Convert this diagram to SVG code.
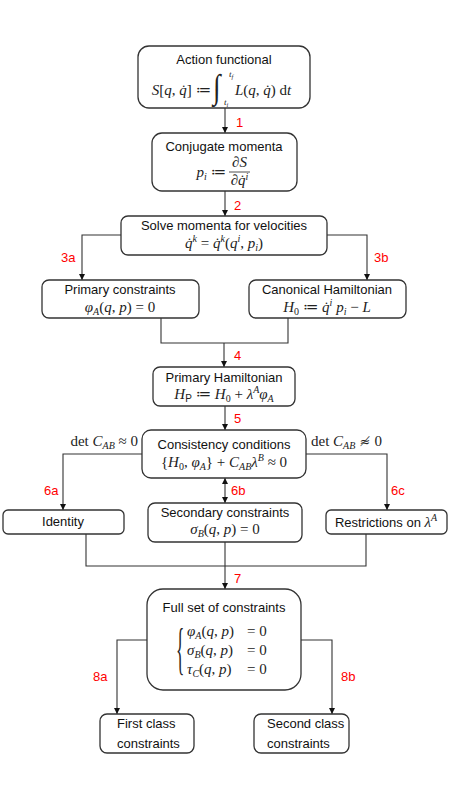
<svg xmlns="http://www.w3.org/2000/svg" width="450" height="800" viewBox="0 0 450 800">
<defs>
<marker id="ah" viewBox="0 0 10 10" refX="10" refY="5" markerWidth="6" markerHeight="6" markerUnits="userSpaceOnUse" orient="auto-start-reverse">
<path d="M0,0 L10,5 L0,10 z" fill="#111"/>
</marker>
<style>
.box{fill:#fff;stroke:#333;stroke-width:1.3}
.t{font-family:"Liberation Sans","DejaVu Sans",sans-serif;font-size:13px;fill:#111}
.m{font-family:"Liberation Serif","DejaVu Serif",serif;font-size:15px;fill:#222}
.i{font-style:italic}
.s{font-size:10px}
.lbl{font-family:"Liberation Sans","DejaVu Sans",sans-serif;font-size:13px;fill:#ff0000}
.c{fill:none;stroke:#333;stroke-width:1.1}
</style>
</defs>
<rect width="450" height="800" fill="#fff"/>
<g id="connectors">
<path class="c" d="M225,108 V133" marker-end="url(#ah)"/>
<path class="c" d="M225,191 V216" marker-end="url(#ah)"/>
<path class="c" d="M121,235 H82 V280" marker-end="url(#ah)"/>
<path class="c" d="M327,235 H367 V280" marker-end="url(#ah)"/>
<path class="c" d="M161,318 V343 H288 V318"/>
<path class="c" d="M224,343 V367" marker-end="url(#ah)"/>
<path class="c" d="M225,406 V430" marker-end="url(#ah)"/>
<path class="c" d="M142,454 H63 V510" marker-end="url(#ah)"/>
<path class="c" d="M306,454 H387 V510" marker-end="url(#ah)"/>
<path class="c" d="M225,478 V503" marker-start="url(#ah)" marker-end="url(#ah)"/>
<path class="c" d="M86,534 V566 H366 V534"/>
<path class="c" d="M225,542 V589" marker-end="url(#ah)"/>
<path class="c" d="M147,640 H117 V714" marker-end="url(#ah)"/>
<path class="c" d="M301,640 H332 V714" marker-end="url(#ah)"/>
<text class="lbl" x="236" y="127">1</text>
<text class="lbl" x="234" y="210">2</text>
<text class="lbl" x="61" y="262">3a</text>
<text class="lbl" x="374" y="262">3b</text>
<text class="lbl" x="234" y="360">4</text>
<text class="lbl" x="234" y="423">5</text>
<text class="lbl" x="44" y="495">6a</text>
<text class="lbl" x="231" y="495">6b</text>
<text class="lbl" x="391" y="495">6c</text>
<text class="lbl" x="234" y="583">7</text>
<text class="lbl" x="93" y="681">8a</text>
<text class="lbl" x="341" y="681">8b</text>
<text class="m" x="138" y="446" text-anchor="end">det <tspan class="i">C</tspan><tspan class="i s" dy="3">AB</tspan><tspan dy="-3"> ≈ 0</tspan></text>
<text class="m" x="311" y="446">det <tspan class="i">C</tspan><tspan class="i s" dy="3">AB</tspan><tspan dy="-3" font-family="DejaVu Serif" font-size="13"> ≉ </tspan><tspan>0</tspan></text>
</g>
<g id="n1">
<rect class="box" x="138" y="46" width="172" height="62" rx="11"/>
<text class="t" x="224" y="64" text-anchor="middle">Action functional</text>
<text class="m" x="211" y="95" text-anchor="end"><tspan class="i">S</tspan>[<tspan class="i">q</tspan>, <tspan class="i">q̇</tspan>] ≔</text>
<text class="m" x="0" y="0" transform="translate(213,98) scale(0.8,1)" style="font-size:34px">∫</text>
<text class="m i" x="229" y="77" style="font-size:9px">t<tspan font-size="6.5" dy="1.5">f</tspan></text>
<text class="m i" x="224" y="105" style="font-size:9px">t<tspan font-size="6.5" dy="1.5">i</tspan></text>
<text class="m" x="235" y="95"><tspan class="i">L</tspan>(<tspan class="i">q</tspan>, <tspan class="i">q̇</tspan>) d<tspan class="i">t</tspan></text>
</g>
<g id="n2">
<rect class="box" x="152" y="133" width="145" height="58" rx="10"/>
<text class="t" x="224" y="151" text-anchor="middle">Conjugate momenta</text>
<text class="m" x="226" y="177" text-anchor="end"><tspan class="i">p</tspan><tspan class="i s" dy="3">i</tspan><tspan dy="-3"> ≔</tspan></text>
<line x1="229" y1="172" x2="250" y2="172" stroke="#222" stroke-width="0.8"/>
<text class="m" x="239.5" y="167" text-anchor="middle"><tspan class="i">∂S</tspan></text>
<text class="m" x="239.5" y="185" text-anchor="middle"><tspan class="i">∂q̇</tspan><tspan class="i s" dy="-5">i</tspan></text>
</g>
<g id="n3">
<rect class="box" x="121" y="216" width="206" height="39" rx="7"/>
<text class="t" x="224" y="230" text-anchor="middle">Solve momenta for velocities</text>
<text class="m" x="224" y="248" text-anchor="middle"><tspan class="i">q̇</tspan><tspan class="i s" dy="-6">k</tspan><tspan dy="6"> = </tspan><tspan class="i">q̇</tspan><tspan class="i s" dy="-6">k</tspan><tspan dy="6">(</tspan><tspan class="i">q</tspan><tspan class="i s" dy="-6">i</tspan><tspan dy="6">, </tspan><tspan class="i">p</tspan><tspan class="i s" dy="3">i</tspan><tspan dy="-3">)</tspan></text>
</g>
<g id="n4a">
<rect class="box" x="42" y="280" width="157" height="38" rx="7"/>
<text class="t" x="120" y="294" text-anchor="middle">Primary constraints</text>
<text class="m" x="120" y="312" text-anchor="middle"><tspan class="i">φ</tspan><tspan class="i s" dy="3">A</tspan><tspan dy="-3">(</tspan><tspan class="i">q</tspan>, <tspan class="i">p</tspan>) = 0</text>
</g>
<g id="n4b">
<rect class="box" x="249" y="280" width="157" height="38" rx="7"/>
<text class="t" x="327" y="294" text-anchor="middle">Canonical Hamiltonian</text>
<text class="m" x="327" y="312" text-anchor="middle"><tspan class="i">H</tspan><tspan class="s" dy="3">0</tspan><tspan dy="-3"> ≔ </tspan><tspan class="i">q̇</tspan><tspan class="i s" dy="-6">i</tspan><tspan dy="6"> </tspan><tspan class="i">p</tspan><tspan class="i s" dy="3">i</tspan><tspan dy="-3"> − </tspan><tspan class="i">L</tspan></text>
</g>
<g id="n5">
<rect class="box" x="153" y="367" width="142" height="39" rx="7"/>
<text class="t" x="224" y="382" text-anchor="middle">Primary Hamiltonian</text>
<text class="m" x="224" y="399" text-anchor="middle"><tspan class="i">H</tspan><tspan class="s" dy="3" font-family="Liberation Sans, sans-serif" font-size="8">P</tspan><tspan dy="-3"> ≔ </tspan><tspan class="i">H</tspan><tspan class="s" dy="3">0</tspan><tspan dy="-3"> + </tspan><tspan class="i">λ</tspan><tspan class="i s" dy="-6">A</tspan><tspan class="i" dy="6">φ</tspan><tspan class="i s" dy="3">A</tspan></text>
</g>
<g id="n6">
<rect class="box" x="142" y="430" width="164" height="48" rx="9"/>
<text class="t" x="224" y="449" text-anchor="middle">Consistency conditions</text>
<text class="m" x="224" y="467" text-anchor="middle">{<tspan class="i">H</tspan><tspan class="s" dy="3">0</tspan><tspan dy="-3">, </tspan><tspan class="i">φ</tspan><tspan class="i s" dy="3">A</tspan><tspan dy="-3">} + </tspan><tspan class="i">C</tspan><tspan class="i s" dy="3">AB</tspan><tspan class="i" dy="-3">λ</tspan><tspan class="i s" dy="-6">B</tspan><tspan dy="6"> ≈ 0</tspan></text>
</g>
<g id="n7a">
<rect class="box" x="3" y="510" width="121" height="24" rx="5"/>
<text class="t" x="63" y="526" text-anchor="middle">Identity</text>
</g>
<g id="n7b">
<rect class="box" x="148" y="503" width="154" height="39" rx="7"/>
<text class="t" x="225" y="517" text-anchor="middle">Secondary constraints</text>
<text class="m" x="225" y="534" text-anchor="middle"><tspan class="i">σ</tspan><tspan class="i s" dy="3">B</tspan><tspan dy="-3">(</tspan><tspan class="i">q</tspan>, <tspan class="i">p</tspan>) = 0</text>
</g>
<g id="n7c">
<rect class="box" x="326" y="510" width="121" height="24" rx="5"/>
<text class="t" x="386" y="527" text-anchor="middle">Restrictions on <tspan class="m i">λ</tspan><tspan class="m i s" dy="-6">A</tspan></text>
</g>
<g id="n8">
<rect class="box" x="147" y="589" width="154" height="101" rx="16"/>
<text class="t" x="224" y="612" text-anchor="middle">Full set of constraints</text>
<text class="m" x="0" y="0" transform="translate(176,668) scale(0.3,1)" style="font-size:58px">{</text>
<text class="m" x="187" y="636"><tspan class="i">φ</tspan><tspan class="i s" dy="3">A</tspan><tspan dy="-3">(</tspan><tspan class="i">q</tspan>, <tspan class="i">p</tspan>)</text>
<text class="m" x="247" y="636">= 0</text>
<text class="m" x="187" y="655"><tspan class="i">σ</tspan><tspan class="i s" dy="3">B</tspan><tspan dy="-3">(</tspan><tspan class="i">q</tspan>, <tspan class="i">p</tspan>)</text>
<text class="m" x="247" y="655">= 0</text>
<text class="m" x="187" y="674"><tspan class="i">τ</tspan><tspan class="i s" dy="3">C</tspan><tspan dy="-3">(</tspan><tspan class="i">q</tspan>, <tspan class="i">p</tspan>)</text>
<text class="m" x="247" y="674">= 0</text>
</g>
<g id="n9a">
<rect class="box" x="100" y="714" width="94" height="39" rx="7"/>
<text class="t" x="117" y="728">First class</text>
<text class="t" x="117" y="748">constraints</text>
</g>
<g id="n9b">
<rect class="box" x="254" y="714" width="95" height="39" rx="7"/>
<text class="t" x="267" y="728">Second class</text>
<text class="t" x="267" y="748">constraints</text>
</g>
</svg>
